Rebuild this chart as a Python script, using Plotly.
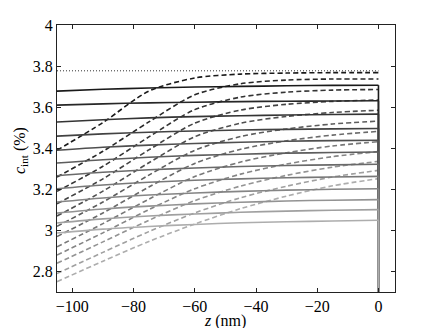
import plotly.graph_objects as go

# ---- data ----
z_samples = [-105, -90, -75, -60, -45, -30, -15, 0]

solid_01 = [3.678, 3.687, 3.693, 3.698, 3.701, 3.704, 3.706, 3.707]
solid_02 = [3.610, 3.616, 3.621, 3.624, 3.627, 3.629, 3.630, 3.631]
solid_03 = [3.528, 3.539, 3.548, 3.554, 3.558, 3.562, 3.564, 3.566]
solid_04 = [3.459, 3.470, 3.478, 3.484, 3.489, 3.492, 3.494, 3.496]
solid_05 = [3.390, 3.405, 3.415, 3.423, 3.429, 3.434, 3.437, 3.439]
solid_06 = [3.328, 3.344, 3.356, 3.365, 3.371, 3.376, 3.379, 3.382]
solid_07 = [3.266, 3.283, 3.295, 3.304, 3.311, 3.316, 3.319, 3.322]
solid_08 = [3.203, 3.221, 3.234, 3.244, 3.251, 3.256, 3.260, 3.263]
solid_09 = [3.138, 3.158, 3.172, 3.182, 3.190, 3.196, 3.200, 3.203]
solid_10 = [3.084, 3.104, 3.118, 3.129, 3.137, 3.143, 3.147, 3.150]
solid_11 = [3.036, 3.056, 3.070, 3.080, 3.088, 3.094, 3.098, 3.101]
solid_12 = [2.987, 3.006, 3.019, 3.029, 3.037, 3.042, 3.046, 3.049]

dashed_01 = [3.390, 3.525, 3.678, 3.742, 3.761, 3.766, 3.768, 3.768]
dashed_02 = [3.260, 3.385, 3.528, 3.660, 3.714, 3.732, 3.737, 3.737]
dashed_03 = [3.190, 3.312, 3.455, 3.588, 3.649, 3.673, 3.683, 3.686]
dashed_04 = [3.130, 3.251, 3.392, 3.522, 3.586, 3.614, 3.628, 3.635]
dashed_05 = [3.070, 3.191, 3.329, 3.456, 3.522, 3.555, 3.574, 3.585]
dashed_06 = [3.020, 3.138, 3.269, 3.390, 3.457, 3.494, 3.518, 3.532]
dashed_07 = [2.970, 3.085, 3.211, 3.326, 3.395, 3.436, 3.464, 3.482]
dashed_08 = [2.920, 3.033, 3.152, 3.262, 3.333, 3.378, 3.411, 3.432]
dashed_09 = [2.880, 2.988, 3.101, 3.203, 3.274, 3.323, 3.359, 3.384]
dashed_10 = [2.840, 2.944, 3.049, 3.145, 3.216, 3.268, 3.308, 3.336]
dashed_11 = [2.790, 2.893, 2.994, 3.085, 3.159, 3.215, 3.260, 3.292]
dashed_12 = [2.750, 2.850, 2.946, 3.031, 3.106, 3.167, 3.217, 3.252]

equilibrium_level = 3.777
drop_bottom = 2.6

x_tick_vals = [-100, -80, -60, -40, -20, 0]
x_tick_text = ["\u2212100", "\u221280", "\u221260", "\u221240", "\u221220", "0"]
y_tick_vals = [2.8, 3.0, 3.2, 3.4, 3.6, 3.8, 4.0]
y_tick_text = ["2.8", "3", "3.2", "3.4", "3.6", "3.8", "4"]

solids = [solid_01, solid_02, solid_03, solid_04, solid_05, solid_06,
          solid_07, solid_08, solid_09, solid_10, solid_11, solid_12]
dasheds = [dashed_01, dashed_02, dashed_03, dashed_04, dashed_05, dashed_06,
           dashed_07, dashed_08, dashed_09, dashed_10, dashed_11, dashed_12]

# ---- styles ----
grays = [26, 39, 52, 66, 79, 93, 106, 120, 133, 147, 160, 173]
colors = [f"rgb({g},{g},{g})" for g in grays]

fig = go.Figure()

fig.add_trace(go.Scatter(
    x=[z_samples[0], z_samples[-1]], y=[equilibrium_level, equilibrium_level],
    mode="lines", line=dict(color="#333", width=1.0, dash="1px,2px"),
    hoverinfo="skip", showlegend=False))

for vals, col in zip(dasheds, colors):
    fig.add_trace(go.Scatter(
        x=z_samples, y=vals, mode="lines",
        line=dict(color=col, width=1.6, dash="5px,3px", shape="spline", smoothing=0.8),
        showlegend=False))

for vals, col in zip(solids, colors):
    fig.add_trace(go.Scatter(
        x=z_samples, y=vals, mode="lines",
        line=dict(color=col, width=1.6, shape="spline", smoothing=0.8),
        showlegend=False))
    fig.add_trace(go.Scatter(
        x=[z_samples[-1], z_samples[-1]], y=[vals[-1], drop_bottom], mode="lines",
        line=dict(color=col, width=1.6), showlegend=False))

font_family = "Liberation Serif"
axis_common = dict(
    showline=True, linecolor="#222", linewidth=1, mirror="ticks",
    ticks="inside", ticklen=4, tickwidth=1, tickcolor="#222",
    showgrid=False, zeroline=False, automargin=False,
    tickfont=dict(family=font_family, size=16, color="black"),
)

fig.update_layout(
    width=436, height=328,
    margin=dict(l=49, r=49, t=17, b=44, autoexpand=False),
    paper_bgcolor="white", plot_bgcolor="white",
    font=dict(family=font_family, color="black"),
    xaxis=dict(range=[-105, 5.4], tickvals=x_tick_vals, ticktext=x_tick_text,
               **axis_common),
    yaxis=dict(range=[2.7, 4.0], tickvals=y_tick_vals, ticktext=y_tick_text,
               **axis_common),
    annotations=[
        dict(text="<i>z</i> (nm)", xref="paper", yref="paper", x=0.497, y=0,
             xanchor="center", yanchor="middle", yshift=-29, showarrow=False,
             font=dict(family=font_family, size=16, color="black")),
        dict(text="<i>c</i><sub>int</sub> (%)", xref="paper", yref="paper", x=0, y=0.528,
             xanchor="center", yanchor="middle", xshift=-37, textangle=-90, showarrow=False,
             font=dict(family=font_family, size=16, color="black")),
    ],
)

fig.write_html("out.html")
